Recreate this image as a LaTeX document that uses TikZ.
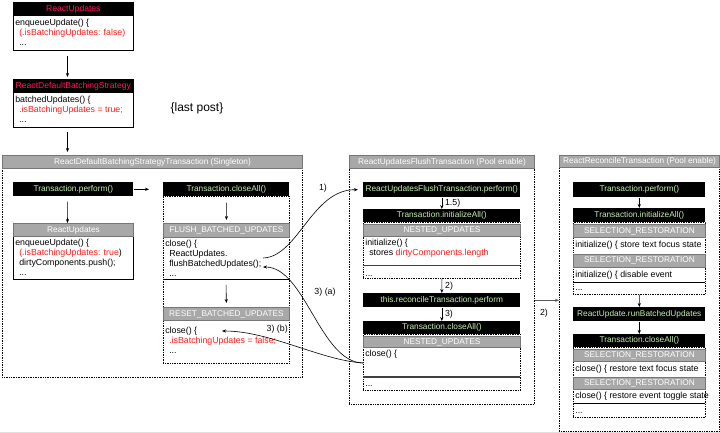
\documentclass[tikz,border=0pt]{standalone}
\usepackage{fontspec}
\setmainfont{Liberation Sans}
\usetikzlibrary{positioning,arrows.meta}

\definecolor{codegreen}{RGB}{200,240,176}
\definecolor{titlered}{RGB}{255,24,88}
\definecolor{codered}{RGB}{255,28,28}
\definecolor{barfill}{RGB}{168,168,168}
\definecolor{barline}{RGB}{118,118,118}

\newcommand\barfont{\fontsize{8.3}{9}\selectfont}
\newcommand\titlefont{\fontsize{8.6}{9}\selectfont}
\newcommand\codefont{\fontsize{8.8}{10}\selectfont}
\newcommand\hot[1]{\textcolor{codered}{#1}}
\newcommand\ind{\hspace*{4pt}}

\tikzset{
  blackbar/.style={fill=black, text=codegreen, font=\barfont, inner sep=0pt, minimum height=14pt, anchor=north west},
  titlebar/.style={blackbar, text=titlered, font=\titlefont},
  graybar/.style={fill=barfill, draw=barline, line width=1pt, text=white, font=\barfont, inner sep=0pt, minimum height=13pt, anchor=north west},
  codebody/.style={font=\codefont, align=left, inner xsep=2pt, inner ysep=3pt, anchor=north west},
  coderow/.style={font=\codefont, inner xsep=2pt, inner ysep=0pt, anchor=west},
  txframe/.style={draw, densely dotted, line width=0.7pt, inner sep=0pt, anchor=north west},
  card/.style={draw, line width=1pt, inner sep=0pt, anchor=north west},
  numlbl/.style={font=\codefont, inner sep=1pt},
  sep/.style={line width=1.2pt, black!75},
}

\begin{document}
\begin{tikzpicture}[x=1pt, y=-1pt, >={Stealth[length=4pt,width=3.2pt]}, line width=0.6pt]
\useasboundingbox (0,0) rectangle (720,433);
\draw[black!12, line width=1.2pt] (0,432.4) -- (720,432.4);

% left column: ReactUpdates -> BatchingStrategy
\node[card, minimum width=120pt, minimum height=48pt] (rucard) at (13,2) {};
\node[titlebar, minimum width=120pt] (ruhead) at (13,2) {ReactUpdates};
\node[codebody] (rubody) at (13,16) {enqueueUpdate() \{\\ \ind\hot{(.isBatchingUpdates: false)}\\ \ind...};

\node[card, minimum width=120pt, minimum height=48pt] (bscard) at (13,79) {};
\node[titlebar, minimum width=120pt] (bshead) at (13,79) {ReactDefaultBatchingStrategy};
\node[codebody] (bsbody) at (13,93) {batchedUpdates() \{\\ \ind\hot{.isBatchingUpdates = true;}\\ \ind...};

\node[font=\fontsize{12}{14}\selectfont] (lastpost) at (197,108) {\{last post\}};

\draw[->, shorten <=5pt, shorten >=2pt] ([xshift=-6pt]rucard.south) -- ([xshift=-6pt]bscard.north);
\draw[->, shorten <=4pt, shorten >=2pt] ([xshift=-6pt]bscard.south) -- ++(0,26);

% ReactDefaultBatchingStrategyTransaction
\node[txframe, minimum width=300pt, minimum height=222pt] (batchtx) at (2,155) {};
\node[graybar, minimum width=300pt] (batchhead) at (2,155) {ReactDefaultBatchingStrategyTransaction (Singleton)};

\node[blackbar, minimum width=120pt] (perform1) at (13,182) {Transaction.perform()};
\node[card, minimum width=120pt, minimum height=56pt] (rucard2) at (13,223) {};
\node[graybar, minimum width=120pt] (ruhead2) at (13,223) {ReactUpdates};
\node[codebody] (rubody2) at (13,236) {enqueueUpdate() \{\\ \ind\hot{(.isBatchingUpdates: true})\\ \ind dirtyComponents.push();\\ \ind...};

\node[txframe, minimum width=126pt, minimum height=167pt] (closeframe1) at (163,196) {};
\node[blackbar, minimum width=126pt] (closeall1) at (163,182) {Transaction.closeAll()};
\node[graybar, minimum width=126pt, minimum height=14pt] (flushhead) at (163,223) {FLUSH\_BATCHED\_UPDATES};
\node[codebody] (flushbody) at (163,237) {close() \{\\ \ind ReactUpdates.\\ \ind flushBatchedUpdates();\\ \ind...};
\draw[sep, line width=0.8pt, black] (163,279) -- (289,279);
\node[graybar, minimum width=126pt] (resethead) at (163,307) {RESET\_BATCHED\_UPDATES};
\node[codebody] (resetbody) at (163,324) {close() \{\\ \ind\hot{.isBatchingUpdates = false;}\\ \ind...};
\node[numlbl, anchor=east] (lbl3b) at (289,329) {3) (b)};

\coordinate (flushend) at (226,279);
\draw[->] ([xshift=-6pt]perform1.south) ++(0,5) -- ([xshift=-6pt]rucard2.north);
\draw[->, shorten >=14pt] (perform1) -- (closeall1);
\draw[->, shorten <=6pt, shorten >=3pt] (closeall1) -- (flushhead);
\draw[->, shorten <=6pt, shorten >=4pt] (flushend) -- (resethead);

% ReactUpdatesFlushTransaction
\node[txframe, minimum width=185pt, minimum height=249pt] (flushtx) at (349,155) {};
\node[graybar, minimum width=185pt] (flushtxhead) at (349,155) {ReactUpdatesFlushTransaction (Pool enable)};

\node[blackbar, minimum width=157pt, minimum height=15pt] (perform2) at (363,182) {ReactUpdatesFlushTransaction.perform()};
\node[txframe, minimum width=157pt, minimum height=56pt] (flushinit) at (363,222) {};
\node[blackbar, minimum width=157pt, minimum height=13pt] (initall2) at (363,209) {Transaction.initializeAll()};
\node[graybar, minimum width=157pt, minimum height=12pt] (nestedhead1) at (363,224) {NESTED\_UPDATES};
\node[codebody] (nestedbody1) at (363,236) {initialize() \{\\ \ind stores \hot{dirtyComponents.length}};
\draw[sep] (363,265.5) -- (520,265.5);
\node[codebody, anchor=base west] (nesteddots1) at (363,276) {...};

\node[blackbar, minimum width=157pt] (reconcile) at (363,293) {this.reconcileTransaction.perform};
\node[txframe, minimum width=157pt, minimum height=56pt] (flushclose) at (363,334) {};
\node[blackbar, minimum width=157pt, minimum height=13pt] (closeall2) at (363,321) {Transaction.closeAll()};
\node[graybar, minimum width=157pt, minimum height=11pt] (nestedhead2) at (363,336) {NESTED\_UPDATES};
\node[codebody] (nestedbody2) at (363,347) {close() \{};
\draw[sep] (363,377) -- (520,377);
\node[codebody, anchor=base west] (nesteddots2) at (363,386) {...};

\draw[->] (perform2) -- node[numlbl, right=2pt] {1.5)} (initall2);
\draw[->] (flushinit) -- node[numlbl, right=2pt] {2)} (reconcile);
\draw[->] (reconcile) -- node[numlbl, right=2pt] {3)} (closeall2);

% ReactReconcileTransaction
\node[txframe, minimum width=160pt, minimum height=276pt] (recontx) at (559,155) {};
\node[graybar, minimum width=160pt, minimum height=12pt] (recontxhead) at (559,155) {ReactReconcileTransaction (Pool enable)};

\node[blackbar, minimum width=132pt, minimum height=15pt] (perform3) at (573,182) {Transaction.perform()};
\node[txframe, minimum width=132pt, minimum height=72pt] (selinit) at (573,222) {};
\node[blackbar, minimum width=132pt] (initall3) at (573,208) {Transaction.initializeAll()};
\node[graybar, minimum width=132pt] (selhead1) at (573,224) {SELECTION\_RESTORATION};
\node[coderow] (selrow1) at (573,245) {initialize() \{ store text focus state};
\node[graybar, minimum width=132pt] (selhead2) at (573,253.5) {SELECTION\_RESTORATION};
\node[coderow] (selrow2) at (573,275) {initialize() \{ disable event};
\draw[sep, line width=0.8pt, black] (573,282) -- (705,282);
\node[codebody, anchor=base west] (seldots1) at (573,290) {...};

\node[blackbar, minimum width=132pt] (runbatched) at (573,307) {ReactUpdate.runBatchedUpdates};
\node[txframe, minimum width=132pt, minimum height=70pt] (selclose) at (573,347) {};
\node[blackbar, minimum width=132pt, minimum height=13pt] (closeall3) at (573,334) {Transaction.closeAll()};
\node[graybar, minimum width=132pt, minimum height=12pt] (selhead3) at (573,349) {SELECTION\_RESTORATION};
\node[coderow] (selrow3) at (573,369) {close() \{ restore text focus state};
\node[graybar, minimum width=132pt, minimum height=12pt] (selhead4) at (573,377) {SELECTION\_RESTORATION};
\node[coderow] (selrow4) at (573,396.5) {close() \{ restore event toggle state};
\draw[sep, line width=0.8pt, black] (573,403.5) -- (705,403.5);
\node[codebody, anchor=base west] (seldots2) at (573,413) {...};

\draw[->] (perform3) -- (initall3);
\draw[->] (selinit) -- (runbatched);
\draw[->] (runbatched) -- (closeall3);

% calls between the transactions
\coordinate (flushcall) at (263,258);
\coordinate (flushback) at (263,267);
\coordinate (resetback) at (222,331);
\coordinate (nestedclose) at (363,363);
\draw[->, shorten >=5pt] (flushcall) .. controls (298,257) and (312,189) .. (perform2.west);
\node[numlbl] (lbl1) at (323,188) {1)};
\draw[->] (nestedclose) .. controls (320,362) and (305,267) .. (flushback);
\node[numlbl] (lbl3a) at (325,292) {3) (a)};
\draw[->] (nestedclose) .. controls (320,360) and (270,331) .. (resetback);
\draw[->, black!65, line width=1pt] (flushtx.east |- reconcile) -- (recontx.west |- reconcile);
\node[numlbl] (lbl2) at (544,313) {2)};
\end{tikzpicture}
\end{document}
